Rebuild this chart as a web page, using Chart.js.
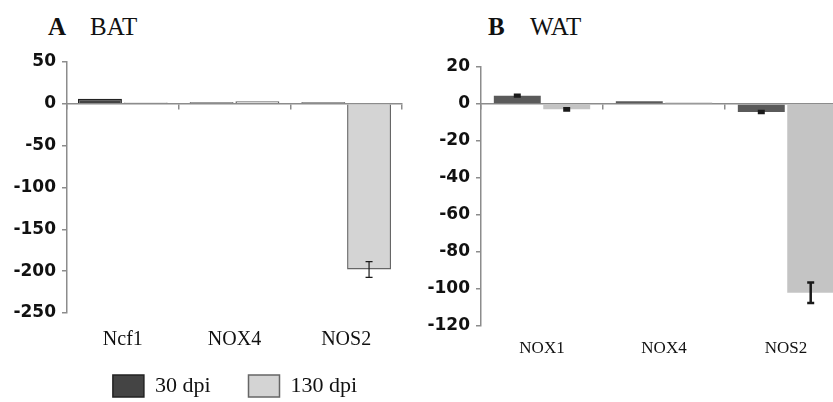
<!DOCTYPE html>
<html lang="en">

<head>
    <meta charset="UTF-8">
    <title>BAT / WAT</title>
    <script src="https://cdn.jsdelivr.net/npm/chart.js"></script>
    <style>
        body {
            margin: 0;
            width: 833px;
            height: 402px;
            overflow: hidden;
            position: relative;
            background: #fff;
            font-family: "Liberation Serif", serif;
        }

        .wrap {
            position: absolute;
        }

        .title {
            position: absolute;
            font-size: 25px;
            line-height: 25px;
            color: #111;
        }

        .title b {
            position: absolute;
            left: 0;
        }

        .title span {
            position: absolute;
            white-space: nowrap;
        }
    </style>
</head>

<body>
    <div class="title" style="left:48px; top:14px;"><b>A</b><span style="left:42px;">BAT</span></div>
    <div class="title" style="left:488px; top:14px;"><b>B</b><span style="left:42px;">WAT</span></div>

    <div class="wrap" style="left:0; top:43px; width:420px; height:359px;">
        <canvas id="batChart"></canvas>
    </div>
    <div class="wrap" style="left:420px; top:40px; width:432px; height:326px;">
        <canvas id="watChart"></canvas>
    </div>

    <script>
        const seriesNames = ['30 dpi', '130 dpi'];

        const batGenes = ['Ncf1', 'NOX4', 'NOS2'];
        const bat30 = [6, 2, 2];
        const bat130 = [1.5, 3, -198];
        const bat30Err = [0, 0, 0];
        const bat130Err = [0, 0, 9.5];
        const batTicks = { min: -250, max: 50, step: 50 };

        const watGenes = ['NOX1', 'NOX4', 'NOS2'];
        const wat30 = [4.5, 1.5, -4.3];
        const wat130 = [-2.9, 0.8, -102];
        const wat30Err = [0.5, 0, 0.5];
        const wat130Err = [0.6, 0, 5.5];
        const watTicks = { min: -120, max: 20, step: 20 };

        const axisGrey = '#8c8c8c';

        // draws the +/- error whiskers on top of the bars
        const errorBars = {
            id: 'errorBars',
            afterDatasetsDraw(chart, args, opts) {
                const ctx = chart.ctx;
                const y = chart.scales.y;
                chart.data.datasets.forEach((ds, i) => {
                    const meta = chart.getDatasetMeta(i);
                    meta.data.forEach((bar, j) => {
                        const e = ds.errors[j];
                        if (!e) return;
                        const v = ds.data[j];
                        const top = y.getPixelForValue(v + e);
                        const bot = y.getPixelForValue(v - e);
                        ctx.save();
                        ctx.strokeStyle = '#1a1a1a';
                        ctx.lineWidth = opts.width;
                        ctx.beginPath();
                        ctx.moveTo(bar.x, top);
                        ctx.lineTo(bar.x, bot);
                        ctx.moveTo(bar.x - opts.cap, top);
                        ctx.lineTo(bar.x + opts.cap, top);
                        ctx.moveTo(bar.x - opts.cap, bot);
                        ctx.lineTo(bar.x + opts.cap, bot);
                        ctx.stroke();
                        ctx.restore();
                    });
                });
            }
        };

        // legend sits a bit right of the canvas centre in the original
        const legendShift = {
            id: 'legendShift',
            afterLayout(chart, args, opts) {
                const lg = chart.legend;
                if (!lg) return;
                lg.left += opts.dx;
                lg.right += opts.dx;
                lg.top += opts.dy;
                lg.bottom += opts.dy;
            }
        };

        function yAxis(t, width) {
            return {
                min: t.min,
                max: t.max,
                afterFit: s => { s.width = width; },
                border: { color: axisGrey, width: 1.5 },
                grid: { drawOnChartArea: false, tickLength: 5, color: axisGrey, lineWidth: 1.5 },
                ticks: {
                    stepSize: t.step,
                    color: '#111',
                    padding: 6,
                    font: { family: '"DejaVu Sans", sans-serif', weight: 'bold', size: 17 }
                }
            };
        }

        function zeroAxis() {
            return {
                type: 'category',
                position: { y: 0 },
                offset: true,
                border: { color: axisGrey, width: 1.5 },
                grid: { offset: true, drawOnChartArea: false, tickLength: 5, color: axisGrey, lineWidth: 1.5 },
                ticks: { display: false }
            };
        }

        const batChart = new Chart(document.getElementById('batChart'), {
            type: 'bar',
            data: {
                labels: batGenes,
                datasets: [{
                    label: seriesNames[0],
                    data: bat30,
                    errors: bat30Err,
                    backgroundColor: '#444444',
                    borderColor: '#222222',
                    borderWidth: 1.5,
                    barPercentage: 0.96,
                    categoryPercentage: 0.82
                }, {
                    label: seriesNames[1],
                    data: bat130,
                    errors: bat130Err,
                    backgroundColor: '#d4d4d4',
                    borderColor: '#666666',
                    borderWidth: 1.5,
                    barPercentage: 0.96,
                    categoryPercentage: 0.82
                }]
            },
            options: {
                responsive: true,
                maintainAspectRatio: false,
                animation: false,
                layout: { padding: { left: 0, right: 18, top: 19, bottom: 2 } },
                scales: {
                    x: {
                        afterFit: s => { s.height = 39; },
                        border: { display: false },
                        grid: { display: false },
                        ticks: { color: '#111', padding: 7, font: { family: '"Liberation Serif", serif', size: 20 } }
                    },
                    x2: zeroAxis(),
                    y: yAxis(batTicks, 67)
                },
                plugins: {
                    tooltip: { enabled: false },
                    errorBars: { width: 1.2, cap: 3.5 },
                    legendShift: { dx: 34, dy: 7 },
                    legend: {
                        position: 'bottom',
                        onClick: null,
                        labels: {
                            color: '#111',
                            boxWidth: 31,
                            boxHeight: 22,
                            padding: 16,
                            font: { family: '"Liberation Serif", serif', size: 22 },
                            generateLabels: chart => {
                                const items = Chart.defaults.plugins.legend.labels.generateLabels(chart);
                                items[0].text = items[0].text + '\u2003';
                                return items;
                            }
                        }
                    }
                }
            },
            plugins: [errorBars, legendShift]
        });

        const watChart = new Chart(document.getElementById('watChart'), {
            type: 'bar',
            data: {
                labels: watGenes,
                datasets: [{
                    label: seriesNames[0],
                    data: wat30,
                    errors: wat30Err,
                    backgroundColor: '#5a5a5a',
                    borderWidth: 0,
                    barPercentage: 0.95,
                    categoryPercentage: 0.81
                }, {
                    label: seriesNames[1],
                    data: wat130,
                    errors: wat130Err,
                    backgroundColor: '#c4c4c4',
                    borderWidth: 0,
                    barPercentage: 0.95,
                    categoryPercentage: 0.81
                }]
            },
            options: {
                responsive: true,
                maintainAspectRatio: false,
                animation: false,
                layout: { padding: { left: 0, right: 5, top: 27, bottom: 0 } },
                scales: {
                    x: {
                        afterFit: s => { s.height = 40; },
                        border: { display: false },
                        grid: { display: false },
                        ticks: { color: '#111', padding: 4, font: { family: '"Liberation Serif", serif', size: 17 } }
                    },
                    x2: zeroAxis(),
                    y: yAxis(watTicks, 61)
                },
                plugins: {
                    tooltip: { enabled: false },
                    legend: { display: false },
                    errorBars: { width: 2.5, cap: 3.5 }
                }
            },
            plugins: [errorBars]
        });
    </script>

</body>

</html>
